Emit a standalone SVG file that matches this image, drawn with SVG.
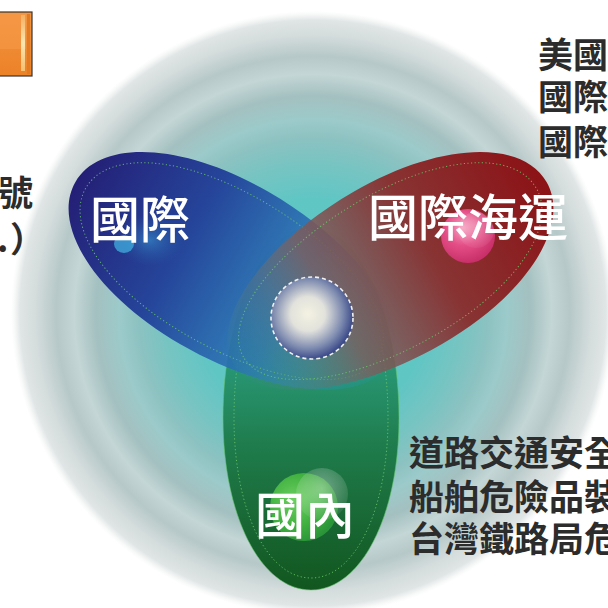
<svg xmlns="http://www.w3.org/2000/svg" width="608" height="608" viewBox="0 0 608 608">
  <defs>
    <!-- soft concentric backdrop -->
    <radialGradient id="halo" cx="313" cy="313" r="302" gradientUnits="userSpaceOnUse">
      <stop offset="0" stop-color="#5ac8c6"/>
      <stop offset="0.38" stop-color="#60c6c4"/>
      <stop offset="0.5" stop-color="#78c4c2"/>
      <stop offset="0.58" stop-color="#8cc2c1"/>
      <stop offset="0.64" stop-color="#9ccaca"/>
      <stop offset="0.72" stop-color="#a4c0c0"/>
      <stop offset="0.79" stop-color="#c4d6d6"/>
      <stop offset="0.85" stop-color="#b6c8c8"/>
      <stop offset="0.92" stop-color="#d4dcdc"/>
      <stop offset="0.97" stop-color="#e0e5e5"/>
      <stop offset="1" stop-color="#eef0f0" stop-opacity="0"/>
    </radialGradient>
    <!-- lobe outline in local coords: hub end at y=-90, far tip at y=272 -->
    <path id="lobeShape" d="M0,-90 C48.6,-90 88,-4.9 88,100 C88,198 50,272 0,272 C-50,272 -88,198 -88,100 C-88,-4.9 -48.6,-90 0,-90 Z"/>
    <path id="lobeInset" d="M0,-78 C42,-78 77,-2 77,100 C77,192 44,260 0,260 C-44,260 -77,192 -77,100 C-77,-2 -42,-78 0,-78 Z"/>
    <!-- lobe fills, y=0 at the hub end, y=1 at the far tip -->
    <linearGradient id="lobeBlue" x1="0" y1="0" x2="0" y2="1">
      <stop offset="0" stop-color="#2a9ac0" stop-opacity="0.12"/>
      <stop offset="0.18" stop-color="#2a8cc4" stop-opacity="0.45"/>
      <stop offset="0.32" stop-color="#2a76b8" stop-opacity="0.85"/>
      <stop offset="0.65" stop-color="#25469b"/>
      <stop offset="1" stop-color="#241f76"/>
    </linearGradient>
    <linearGradient id="lobeRed" x1="0" y1="0" x2="0" y2="1">
      <stop offset="0" stop-color="#3a8a90" stop-opacity="0.1"/>
      <stop offset="0.18" stop-color="#6a7272" stop-opacity="0.42"/>
      <stop offset="0.32" stop-color="#7c5e5e" stop-opacity="0.82"/>
      <stop offset="0.62" stop-color="#883434"/>
      <stop offset="1" stop-color="#8c1216"/>
    </linearGradient>
    <linearGradient id="lobeGreen" x1="0" y1="0" x2="0" y2="1">
      <stop offset="0" stop-color="#1e9a88" stop-opacity="0.15"/>
      <stop offset="0.18" stop-color="#1e9a88" stop-opacity="0.45"/>
      <stop offset="0.35" stop-color="#20926c" stop-opacity="0.85"/>
      <stop offset="0.6" stop-color="#1f7c4c"/>
      <stop offset="1" stop-color="#12561f"/>
    </linearGradient>
    <radialGradient id="core" cx="0.45" cy="0.45" r="0.6">
      <stop offset="0" stop-color="#f4f2e2"/>
      <stop offset="0.35" stop-color="#e2e2dc"/>
      <stop offset="0.7" stop-color="#7f8cb0"/>
      <stop offset="1" stop-color="#24347c"/>
    </radialGradient>
    <radialGradient id="pink" cx="0.4" cy="0.35" r="0.65">
      <stop offset="0" stop-color="#f6a0c0"/>
      <stop offset="0.5" stop-color="#e44e86"/>
      <stop offset="1" stop-color="#c9306a"/>
    </radialGradient>
    <radialGradient id="lime" cx="0.35" cy="0.4" r="0.65">
      <stop offset="0" stop-color="#6cd060"/>
      <stop offset="0.6" stop-color="#40b040"/>
      <stop offset="1" stop-color="#2a9438"/>
    </radialGradient>
    <radialGradient id="gloss" cx="0.5" cy="0.4" r="0.6">
      <stop offset="0" stop-color="#ffffff" stop-opacity="0.55"/>
      <stop offset="1" stop-color="#ffffff" stop-opacity="0.1"/>
    </radialGradient>
    <radialGradient id="azure" cx="0.5" cy="0.5" r="0.5">
      <stop offset="0" stop-color="#3aa0d8" stop-opacity="0.9"/>
      <stop offset="1" stop-color="#2a6ab0" stop-opacity="0"/>
    </radialGradient>
    <linearGradient id="btn" x1="0" y1="0" x2="0" y2="1">
      <stop offset="0" stop-color="#f39440"/>
      <stop offset="1" stop-color="#ec8228"/>
    </linearGradient>
    <linearGradient id="btnStripe" x1="0" y1="0" x2="0" y2="1">
      <stop offset="0" stop-color="#f4b060"/>
      <stop offset="0.5" stop-color="#fbe6b0"/>
      <stop offset="1" stop-color="#f6c070"/>
    </linearGradient>
  </defs>
  <style>
    .lobe-edge { fill: none; stroke: #6cc86a; stroke-width: 1; stroke-dasharray: 1.2 2.4; opacity: 0.85; }
    .label { font-family: "Noto Sans CJK TC", "Noto Sans CJK SC", sans-serif; font-size: 50px; font-weight: 500; fill: #ffffff; }
    .note { font-family: "Noto Sans CJK TC", "Noto Sans CJK SC", sans-serif; font-size: 35px; font-weight: 700; fill: #2c2c2c; }
  </style>

  <rect width="608" height="608" fill="#ffffff"/>

  <!-- corner button -->
  <g id="corner-button">
    <rect x="-4" y="12" width="36" height="64" fill="url(#btn)" stroke="#3a3430" stroke-width="1.2"/>
    <rect x="-4" y="13" width="30" height="36" fill="#f59a48" opacity="0.6"/>
    <rect x="21" y="15" width="4" height="56" fill="url(#btnStripe)"/>
    <rect x="27" y="14" width="3" height="60" fill="#e27a22"/>
  </g>

  <!-- backdrop -->
  <g id="backdrop">
    <circle cx="313" cy="313" r="302" fill="url(#halo)"/>
  </g>

  <!-- three lobes around the hub -->
  <g id="lobes" transform="translate(311 318)">
    <g id="lobe-domestic">
      <use href="#lobeShape" fill="url(#lobeGreen)" stroke="#62c46a" stroke-opacity="0.55" stroke-width="1"/>
      <use href="#lobeInset" class="lobe-edge"/>
    </g>
    <g id="lobe-international" transform="rotate(120)">
      <use href="#lobeShape" fill="url(#lobeBlue)"/>
      <use href="#lobeInset" class="lobe-edge"/>
    </g>
    <g id="lobe-shipping" transform="rotate(240)">
      <use href="#lobeShape" fill="url(#lobeRed)"/>
      <use href="#lobeInset" class="lobe-edge"/>
    </g>
  </g>

  <!-- glossy beads inside the lobes -->
  <g id="beads">
    <ellipse cx="150" cy="240" rx="34" ry="26" fill="url(#azure)" opacity="0.6"/>
    <ellipse cx="124" cy="244" rx="10" ry="9" fill="#3fa6da" opacity="0.8"/>
    <circle cx="468" cy="236" r="27" fill="url(#pink)"/>
    <circle cx="476" cy="230" r="18" fill="url(#gloss)" opacity="0.5"/>
    <circle cx="304" cy="507" r="34" fill="url(#lime)"/>
    <circle cx="322" cy="494" r="26" fill="url(#gloss)" opacity="0.7"/>
  </g>

  <!-- hub -->
  <g id="hub">
    <circle cx="312" cy="318" r="41" fill="url(#core)" stroke="#f2f2f2" stroke-width="1.6" stroke-dasharray="4 3"/>
  </g>

  <!-- lobe titles -->
  <g id="titles">
    <text class="label" x="90" y="238">國際</text>
    <text class="label" x="368" y="236">國際海運</text>
    <text class="label" x="255" y="534">國內</text>
  </g>

  <!-- side notes -->
  <g id="notes">
    <text class="note" x="33" y="206" text-anchor="end">號</text>
    <text class="note" x="-3" y="252">.<tspan x="10">）</tspan></text>
    <text class="note" x="538" y="68">美國</text>
    <text class="note" x="538" y="110">國際</text>
    <text class="note" x="538" y="155">國際</text>
    <text class="note" x="409" y="466">道路交通安全</text>
    <text class="note" x="409" y="510">船舶危險品裝</text>
    <text class="note" x="409" y="552">台灣鐵路局危</text>
  </g>
</svg>
